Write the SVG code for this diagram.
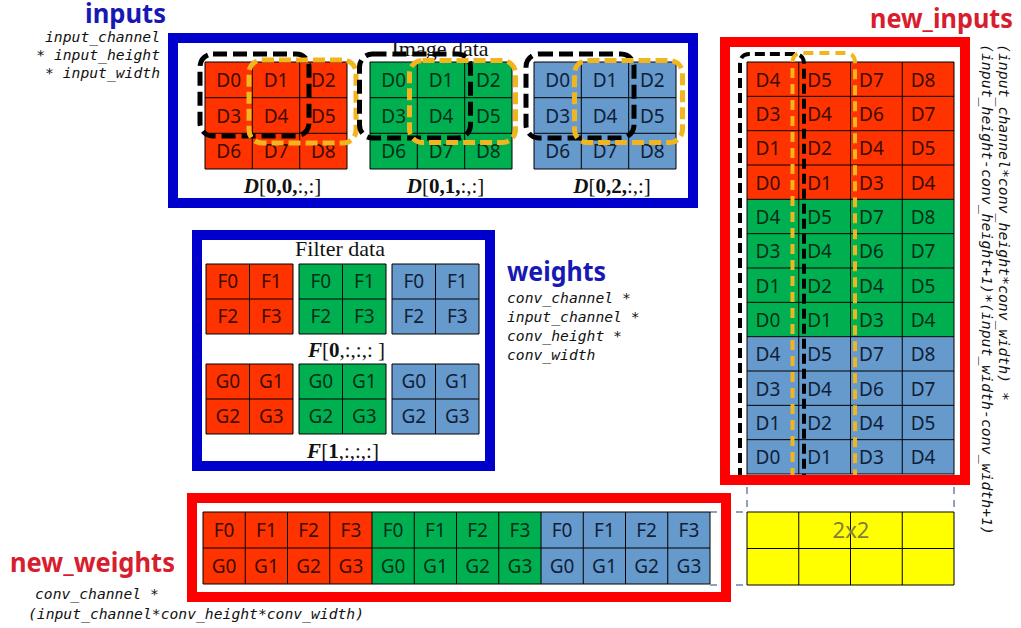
<svg xmlns="http://www.w3.org/2000/svg" width="1021" height="628" viewBox="0 0 1021 628">
<style>
.mono{font-family:"DejaVu Sans Mono","Liberation Mono",monospace;font-style:italic;font-size:14.7px;fill:#111}
.title{font-family:"Noto Sans","Open Sans",sans-serif;font-weight:bold;font-size:26px}
.tblue{fill:#1818B4}
.tred{fill:#D81E2E}
.cell{font-family:"Noto Sans","Open Sans",sans-serif;font-size:19px;text-anchor:middle}
.serif{font-family:"Liberation Serif","Times New Roman",serif;fill:#111}
.r{fill:#FF3300}.g{fill:#00B050}.b{fill:#6699CC}.y{fill:#FFFF00}
.tr{fill:#400b00}.tg{fill:#00301a}.tb{fill:#101f38}
.grid{fill:none;stroke:#000;stroke-width:1}
.blk{fill:none;stroke:#000;stroke-width:5;stroke-dasharray:14 6}
.org{fill:none;stroke:#F2B51E;stroke-width:5;stroke-dasharray:12 5}
.blk2{fill:none;stroke:#000;stroke-width:4;stroke-dasharray:10 5}
.org2{fill:none;stroke:#F2B51E;stroke-width:4;stroke-dasharray:10 6}
.bbox{fill:none;stroke:#0000CC;stroke-width:10}
.rbox{fill:none;stroke:#FF0000;stroke-width:10}
.guide{fill:none;stroke:#8FA2BD;stroke-width:2;stroke-dasharray:7 6}
</style>
<rect x="0" y="0" width="1021" height="628" fill="#fff"/>

<g id="connectors">
<path class="guide" d="M710,512H747M710,585H747M747,474V512M954,474V512"/>
</g>

<g id="inputs-label">
<text class="title tblue" x="85" y="23" textLength="81" lengthAdjust="spacingAndGlyphs">inputs</text>
<text class="mono" x="160" y="42" text-anchor="end">input_channel</text>
<text class="mono" x="160" y="60" text-anchor="end">* input_height</text>
<text class="mono" x="160" y="78" text-anchor="end">* input_width</text>
</g>

<g id="image-data">
<text class="serif" x="440" y="56" font-size="22" text-anchor="middle">Image data</text>
<rect class="r" x="205" y="62" width="142" height="107"/>
<rect class="g" x="370" y="62" width="142" height="107"/>
<rect class="b" x="534" y="62" width="142" height="107"/>
<path class="grid" d="M205,62H347M205,97.7H347M205,133.3H347M205,169H347M205,62V169M252.3,62V169M299.7,62V169M347,62V169
M370,62H512M370,97.7H512M370,133.3H512M370,169H512M370,62V169M417.3,62V169M464.7,62V169M512,62V169
M534,62H676M534,97.7H676M534,133.3H676M534,169H676M534,62V169M581.3,62V169M628.7,62V169M676,62V169"/>
<g class="cell tr">
<text x="228.7" y="87">D0</text><text x="276" y="87">D1</text><text x="323.3" y="87">D2</text>
<text x="228.7" y="122.5">D3</text><text x="276" y="122.5">D4</text><text x="323.3" y="122.5">D5</text>
<text x="228.7" y="158">D6</text><text x="276" y="158">D7</text><text x="323.3" y="158">D8</text>
</g>
<g class="cell tg">
<text x="393.7" y="87">D0</text><text x="441" y="87">D1</text><text x="488.3" y="87">D2</text>
<text x="393.7" y="122.5">D3</text><text x="441" y="122.5">D4</text><text x="488.3" y="122.5">D5</text>
<text x="393.7" y="158">D6</text><text x="441" y="158">D7</text><text x="488.3" y="158">D8</text>
</g>
<g class="cell tb">
<text x="557.7" y="87">D0</text><text x="605" y="87">D1</text><text x="652.3" y="87">D2</text>
<text x="557.7" y="122.5">D3</text><text x="605" y="122.5">D4</text><text x="652.3" y="122.5">D5</text>
<text x="557.7" y="158">D6</text><text x="605" y="158">D7</text><text x="652.3" y="158">D8</text>
</g>
<rect class="blk" x="200" y="54" width="109" height="82" rx="13"/>
<rect class="org" x="249" y="60" width="107" height="83" rx="13"/>
<rect class="blk" x="359.5" y="54" width="111" height="84" rx="13"/>
<rect class="org" x="409.5" y="60.5" width="106" height="82" rx="13"/>
<rect class="blk" x="526" y="54" width="108" height="84" rx="13"/>
<rect class="org" x="574.5" y="60.5" width="108" height="82" rx="13"/>
<text class="serif" x="282.5" y="193" font-size="21" text-anchor="middle"><tspan font-weight="bold" font-style="italic">D</tspan>[<tspan font-weight="bold">0,0,</tspan>:,:]</text>
<text class="serif" x="445.5" y="193" font-size="21" text-anchor="middle"><tspan font-weight="bold" font-style="italic">D</tspan>[<tspan font-weight="bold">0,1,</tspan>:,:]</text>
<text class="serif" x="612" y="193" font-size="21" text-anchor="middle"><tspan font-weight="bold" font-style="italic">D</tspan>[<tspan font-weight="bold">0,2,</tspan>:,:]</text>
<rect class="bbox" x="173" y="38" width="520" height="165"/>
</g>

<g id="filter-data">
<text class="serif" x="340" y="256" font-size="22" text-anchor="middle">Filter data</text>
<rect class="r" x="206" y="264" width="87" height="70"/>
<rect class="g" x="299" y="264" width="87" height="70"/>
<rect class="b" x="392" y="264" width="87" height="70"/>
<rect class="r" x="206" y="364" width="87" height="70"/>
<rect class="g" x="299" y="364" width="87" height="70"/>
<rect class="b" x="392" y="364" width="87" height="70"/>
<path class="grid" d="M206,264H293M206,299H293M206,334H293M206,264V334M249.5,264V334M293,264V334
M299,264H386M299,299H386M299,334H386M299,264V334M342.5,264V334M386,264V334
M392,264H479M392,299H479M392,334H479M392,264V334M435.5,264V334M479,264V334
M206,364H293M206,399H293M206,434H293M206,364V434M249.5,364V434M293,364V434
M299,364H386M299,399H386M299,434H386M299,364V434M342.5,364V434M386,364V434
M392,364H479M392,399H479M392,434H479M392,364V434M435.5,364V434M479,364V434"/>
<g class="cell tr">
<text x="227.8" y="288">F0</text><text x="271.3" y="288">F1</text>
<text x="227.8" y="323">F2</text><text x="271.3" y="323">F3</text>
<text x="227.8" y="388">G0</text><text x="271.3" y="388">G1</text>
<text x="227.8" y="423">G2</text><text x="271.3" y="423">G3</text>
</g>
<g class="cell tg">
<text x="320.8" y="288">F0</text><text x="364.3" y="288">F1</text>
<text x="320.8" y="323">F2</text><text x="364.3" y="323">F3</text>
<text x="320.8" y="388">G0</text><text x="364.3" y="388">G1</text>
<text x="320.8" y="423">G2</text><text x="364.3" y="423">G3</text>
</g>
<g class="cell tb">
<text x="413.8" y="288">F0</text><text x="457.3" y="288">F1</text>
<text x="413.8" y="323">F2</text><text x="457.3" y="323">F3</text>
<text x="413.8" y="388">G0</text><text x="457.3" y="388">G1</text>
<text x="413.8" y="423">G2</text><text x="457.3" y="423">G3</text>
</g>
<text class="serif" x="346.5" y="357" font-size="21" text-anchor="middle"><tspan font-weight="bold" font-style="italic">F</tspan>[<tspan font-weight="bold">0</tspan>,:,:,: ]</text>
<text class="serif" x="343" y="458" font-size="21" text-anchor="middle"><tspan font-weight="bold" font-style="italic">F</tspan>[<tspan font-weight="bold">1</tspan>,:,:,:]</text>
<rect class="bbox" x="197" y="235" width="293" height="231"/>
</g>

<g id="weights-label">
<text class="title tblue" x="507" y="281" textLength="99" lengthAdjust="spacingAndGlyphs">weights</text>
<text class="mono" x="507" y="303">conv_channel *</text>
<text class="mono" x="507" y="322">input_channel *</text>
<text class="mono" x="507" y="341">conv_height *</text>
<text class="mono" x="507" y="360">conv_width</text>
</g>

<g id="new-inputs">
<text class="title tred" x="870" y="28" textLength="143" lengthAdjust="spacingAndGlyphs">new_inputs</text>
<rect class="r" x="747" y="62" width="207" height="137.33"/>
<rect class="g" x="747" y="199.33" width="207" height="137.34"/>
<rect class="b" x="747" y="336.67" width="207" height="137.33"/>
<path class="grid" d="M747,62H954M747,96.33H954M747,130.67H954M747,165H954M747,199.33H954M747,233.67H954M747,268H954M747,302.33H954M747,336.67H954M747,371H954M747,405.33H954M747,439.67H954M747,474H954
M747,62V474M798.75,62V474M850.5,62V474M902.25,62V474M954,62V474"/>
<g class="cell tr">
<text x="767.9" y="86.7">D4</text><text x="819.6" y="86.7">D5</text><text x="871.4" y="86.7">D7</text><text x="923.1" y="86.7">D8</text>
<text x="767.9" y="121">D3</text><text x="819.6" y="121">D4</text><text x="871.4" y="121">D6</text><text x="923.1" y="121">D7</text>
<text x="767.9" y="155.3">D1</text><text x="819.6" y="155.3">D2</text><text x="871.4" y="155.3">D4</text><text x="923.1" y="155.3">D5</text>
<text x="767.9" y="189.7">D0</text><text x="819.6" y="189.7">D1</text><text x="871.4" y="189.7">D3</text><text x="923.1" y="189.7">D4</text>
</g>
<g class="cell tg">
<text x="767.9" y="224">D4</text><text x="819.6" y="224">D5</text><text x="871.4" y="224">D7</text><text x="923.1" y="224">D8</text>
<text x="767.9" y="258.3">D3</text><text x="819.6" y="258.3">D4</text><text x="871.4" y="258.3">D6</text><text x="923.1" y="258.3">D7</text>
<text x="767.9" y="292.7">D1</text><text x="819.6" y="292.7">D2</text><text x="871.4" y="292.7">D4</text><text x="923.1" y="292.7">D5</text>
<text x="767.9" y="327">D0</text><text x="819.6" y="327">D1</text><text x="871.4" y="327">D3</text><text x="923.1" y="327">D4</text>
</g>
<g class="cell tb">
<text x="767.9" y="361.3">D4</text><text x="819.6" y="361.3">D5</text><text x="871.4" y="361.3">D7</text><text x="923.1" y="361.3">D8</text>
<text x="767.9" y="395.7">D3</text><text x="819.6" y="395.7">D4</text><text x="871.4" y="395.7">D6</text><text x="923.1" y="395.7">D7</text>
<text x="767.9" y="430">D1</text><text x="819.6" y="430">D2</text><text x="871.4" y="430">D4</text><text x="923.1" y="430">D5</text>
<text x="767.9" y="464.3">D0</text><text x="819.6" y="464.3">D1</text><text x="871.4" y="464.3">D3</text><text x="923.1" y="464.3">D4</text>
</g>
<path class="blk2" d="M740,478V64Q740,54 750,54H794Q804,54 804,64V478"/>
<path class="org2" d="M792.5,478V63Q792.5,53 802.5,53H845Q855,53 855,63V478"/>
<rect class="rbox" x="725" y="42" width="240" height="438"/>
<text class="mono" transform="translate(999,44) rotate(90)" textLength="357" lengthAdjust="spacingAndGlyphs">(input_channel*conv_height*conv_width) *</text>
<text class="mono" transform="translate(982,44) rotate(90)" textLength="491" lengthAdjust="spacingAndGlyphs">(input_height-conv_height+1)*(input_width-conv_width+1)</text>
</g>

<g id="new-weights">
<text class="title tred" x="10" y="572" textLength="165" lengthAdjust="spacingAndGlyphs">new_weights</text>
<text class="mono" x="35" y="599">conv_channel *</text>
<text class="mono" x="28" y="619">(input_channel*conv_height*conv_width)</text>
<rect class="r" x="203" y="512" width="169" height="72"/>
<rect class="g" x="372" y="512" width="169" height="72"/>
<rect class="b" x="541" y="512" width="169" height="72"/>
<path class="grid" d="M203,512H710M203,548H710M203,584H710
M203,512V584M245.25,512V584M287.5,512V584M329.75,512V584M372,512V584M414.25,512V584M456.5,512V584M498.75,512V584M541,512V584M583.25,512V584M625.5,512V584M667.75,512V584M710,512V584"/>
<g class="cell tr">
<text x="224.1" y="537">F0</text><text x="266.4" y="537">F1</text><text x="308.6" y="537">F2</text><text x="350.9" y="537">F3</text>
<text x="224.1" y="573">G0</text><text x="266.4" y="573">G1</text><text x="308.6" y="573">G2</text><text x="350.9" y="573">G3</text>
</g>
<g class="cell tg">
<text x="393.1" y="537">F0</text><text x="435.4" y="537">F1</text><text x="477.6" y="537">F2</text><text x="519.9" y="537">F3</text>
<text x="393.1" y="573">G0</text><text x="435.4" y="573">G1</text><text x="477.6" y="573">G2</text><text x="519.9" y="573">G3</text>
</g>
<g class="cell tb">
<text x="562.1" y="537">F0</text><text x="604.4" y="537">F1</text><text x="646.6" y="537">F2</text><text x="688.9" y="537">F3</text>
<text x="562.1" y="573">G0</text><text x="604.4" y="573">G1</text><text x="646.6" y="573">G2</text><text x="688.9" y="573">G3</text>
</g>
<rect class="rbox" x="192" y="498" width="534" height="99"/>
</g>

<g id="result-2x2">
<rect class="y" x="747" y="512" width="207" height="73"/>
<path class="grid" d="M747,512H954M747,548.5H954M747,585H954M747,512V585M798.75,512V585M850.5,512V585M902.25,512V585M954,512V585"/>
<text x="851" y="538" font-family="Noto Sans, Open Sans, sans-serif" font-size="22" text-anchor="middle" fill="#7F7F3A">2x2</text>
</g>
</svg>
